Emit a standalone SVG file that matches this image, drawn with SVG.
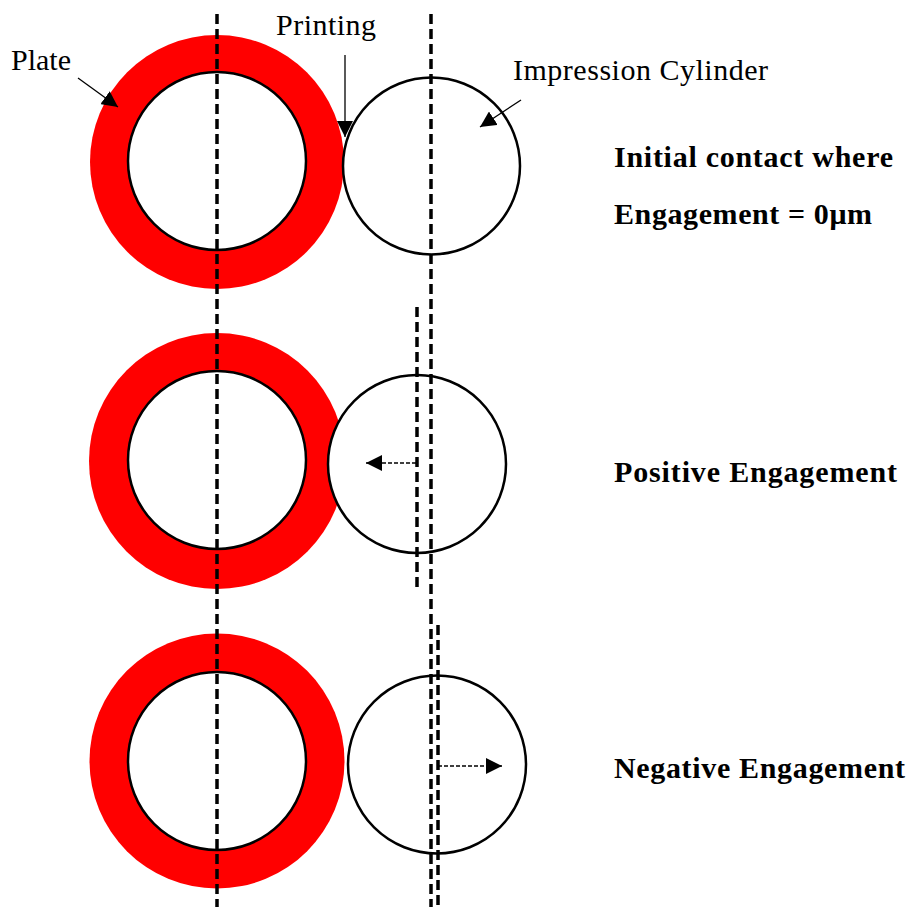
<svg xmlns="http://www.w3.org/2000/svg" width="910" height="907" viewBox="0 0 910 907">
  <style>
    .ring { fill: #ff0000; stroke: none; }
    .core { fill: #ffffff; stroke: #000000; stroke-width: 2.5; }
    .cyl { fill: #ffffff; stroke: #000000; stroke-width: 2.5; }
    .axis { stroke: #000000; stroke-width: 3.5; stroke-dasharray: 10 5; fill: none; }
    .shift { stroke: #000000; stroke-width: 1.3; stroke-dasharray: 4 2; fill: none; }
    .leader { stroke: #000000; stroke-width: 1.3; fill: none; }
    .label { font-family: "Liberation Serif", "DejaVu Serif", serif; font-size: 30px; fill: #000000; }
    .note { font-family: "Liberation Serif", "DejaVu Serif", serif; font-size: 30px; font-weight: bold; fill: #000000; }
  </style>
  <defs>
    <marker id="triBig" viewBox="0 0 10 10" refX="10" refY="5" markerWidth="16" markerHeight="16" markerUnits="userSpaceOnUse" orient="auto">
      <path d="M0,0 L10,5 L0,10 Z" fill="#000000"/>
    </marker>
  </defs>

  <!-- top row: initial contact -->
  <g id="plate-top">
    <circle class="ring" cx="217" cy="162" r="127"/>
    <circle class="core" cx="217" cy="161" r="89"/>
  </g>
  <g id="cylinder-top">
    <circle class="cyl" cx="431.5" cy="166" r="88.5"/>
  </g>

  <!-- middle row: positive engagement -->
  <g id="plate-mid">
    <circle class="ring" cx="217" cy="461" r="128"/>
    <circle class="core" cx="217" cy="460" r="89"/>
  </g>
  <g id="cylinder-mid">
    <circle class="cyl" cx="417" cy="464" r="89"/>
  </g>

  <!-- bottom row: negative engagement -->
  <g id="plate-bot">
    <circle class="ring" cx="217" cy="761" r="127.5"/>
    <circle class="core" cx="217" cy="761" r="89"/>
  </g>
  <g id="cylinder-bot">
    <circle class="cyl" cx="437" cy="764.5" r="89"/>
  </g>

  <!-- centre lines, shifts and leaders -->
  <g id="connectors">
    <line class="axis" x1="217" y1="14" x2="217" y2="907"/>
    <line class="axis" x1="431" y1="14" x2="431" y2="907"/>
    <line class="axis" x1="417" y1="307" x2="417" y2="587"/>
    <line class="axis" x1="438" y1="625" x2="438" y2="907"/>

    <line class="shift" x1="416" y1="463" x2="366" y2="463" marker-end="url(#triBig)"/>
    <line class="shift" x1="438" y1="766" x2="502" y2="766" marker-end="url(#triBig)"/>

    <line class="leader" x1="78" y1="78" x2="118" y2="107" marker-end="url(#triBig)"/>
    <line class="leader" x1="345" y1="55" x2="345" y2="137" marker-end="url(#triBig)"/>
    <line class="leader" x1="521" y1="100" x2="480" y2="127" marker-end="url(#triBig)"/>
  </g>

  <!-- labels -->
  <g id="labels">
    <text class="label" x="11" y="70" textLength="60">Plate</text>
    <text class="label" x="276" y="35" textLength="100">Printing</text>
    <text class="label" x="513" y="80" textLength="255">Impression Cylinder</text>
    <text class="note" x="614" y="167" textLength="279">Initial contact where</text>
    <text class="note" x="614" y="224" textLength="258">Engagement = 0μm</text>
    <text class="note" x="614" y="482" textLength="283">Positive Engagement</text>
    <text class="note" x="614" y="778" textLength="291">Negative Engagement</text>
  </g>
</svg>
